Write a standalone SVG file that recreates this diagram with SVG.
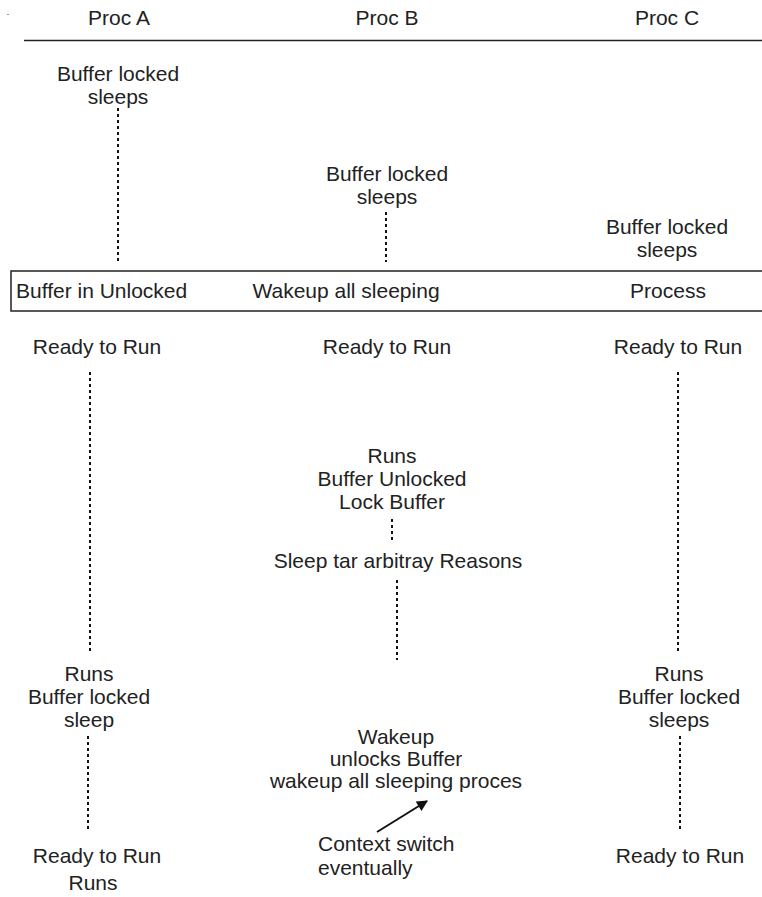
<svg xmlns="http://www.w3.org/2000/svg" width="762" height="897" viewBox="0 0 762 897">
  <style>
    text { font-family: "Liberation Sans", Arial, sans-serif; font-size: 21px; fill: #222; }
    .c { text-anchor: middle; }
    .dot { stroke: #111; stroke-width: 2; stroke-dasharray: 3 3; fill: none; }
    .rule { stroke: #222; stroke-width: 1.5; fill: none; }
  </style>
  <defs>
    <marker id="head" viewBox="0 0 10 10" refX="9" refY="5" markerWidth="6.5" markerHeight="5.5" orient="auto" markerUnits="strokeWidth">
      <path d="M0,0 L10,5 L0,10 z" fill="#111"/>
    </marker>
  </defs>
  <rect width="762" height="897" fill="#fff"/>
  <rect x="7" y="14" width="2" height="1" fill="#999"/>

  <!-- column headings -->
  <g id="headings">
    <text class="c" x="119" y="25">Proc A</text>
    <text class="c" x="387" y="25">Proc B</text>
    <text class="c" x="667" y="25">Proc C</text>
    <line class="rule" x1="24" y1="40.5" x2="762" y2="40.5"/>
  </g>

  <g id="a-sleep1">
    <text class="c" x="118" y="81">Buffer locked</text>
    <text class="c" x="118" y="104">sleeps</text>
  </g>
  <g id="b-sleep1">
    <text class="c" x="387" y="181">Buffer locked</text>
    <text class="c" x="387" y="204">sleeps</text>
  </g>
  <g id="c-sleep1">
    <text class="c" x="667" y="234">Buffer locked</text>
    <text class="c" x="667" y="257">sleeps</text>
  </g>

  <!-- process band -->
  <g id="band">
    <path class="rule" d="M764,271 H11 V311 H764"/>
    <text x="16" y="298">Buffer in Unlocked</text>
    <text class="c" x="346" y="298">Wakeup all sleeping</text>
    <text class="c" x="668" y="298">Process</text>
  </g>

  <g id="a-ready1"><text class="c" x="97" y="354">Ready to Run</text></g>
  <g id="b-ready1"><text class="c" x="387" y="354">Ready to Run</text></g>
  <g id="c-ready1"><text class="c" x="678" y="354">Ready to Run</text></g>

  <g id="b-runs">
    <text class="c" x="392" y="463">Runs</text>
    <text class="c" x="392" y="486">Buffer Unlocked</text>
    <text class="c" x="392" y="509">Lock Buffer</text>
  </g>
  <g id="b-sleep2">
    <text class="c" x="398" y="568">Sleep tar arbitray Reasons</text>
  </g>

  <g id="a-runs">
    <text class="c" x="89" y="681">Runs</text>
    <text class="c" x="89" y="704">Buffer locked</text>
    <text class="c" x="89" y="727">sleep</text>
  </g>
  <g id="c-runs">
    <text class="c" x="679" y="681">Runs</text>
    <text class="c" x="679" y="704">Buffer locked</text>
    <text class="c" x="679" y="727">sleeps</text>
  </g>

  <g id="b-wakeup">
    <text class="c" x="396" y="744">Wakeup</text>
    <text class="c" x="396" y="766">unlocks Buffer</text>
    <text class="c" x="396" y="788">wakeup all sleeping proces</text>
  </g>
  <g id="b-context">
    <text x="318" y="851">Context switch</text>
    <text x="318" y="875">eventually</text>
  </g>

  <g id="a-ready2">
    <text class="c" x="97" y="863">Ready to Run</text>
    <text class="c" x="93" y="890">Runs</text>
  </g>
  <g id="c-ready2"><text class="c" x="680" y="863">Ready to Run</text></g>

  <!-- timelines and the context-switch pointer -->
  <g id="connectors">
    <line class="dot" x1="118" y1="108" x2="118" y2="262"/>
    <line class="dot" x1="386" y1="212" x2="386" y2="262"/>
    <line class="dot" x1="90" y1="372" x2="90" y2="652"/>
    <line class="dot" x1="678" y1="372" x2="678" y2="652"/>
    <line class="dot" x1="392" y1="519" x2="392" y2="541"/>
    <line class="dot" x1="397" y1="580" x2="397" y2="660"/>
    <line class="dot" x1="88" y1="736" x2="88" y2="832"/>
    <line class="dot" x1="680" y1="736" x2="680" y2="832"/>
    <line stroke="#111" stroke-width="2" x1="377" y1="832" x2="427" y2="801" marker-end="url(#head)"/>
  </g>
</svg>
